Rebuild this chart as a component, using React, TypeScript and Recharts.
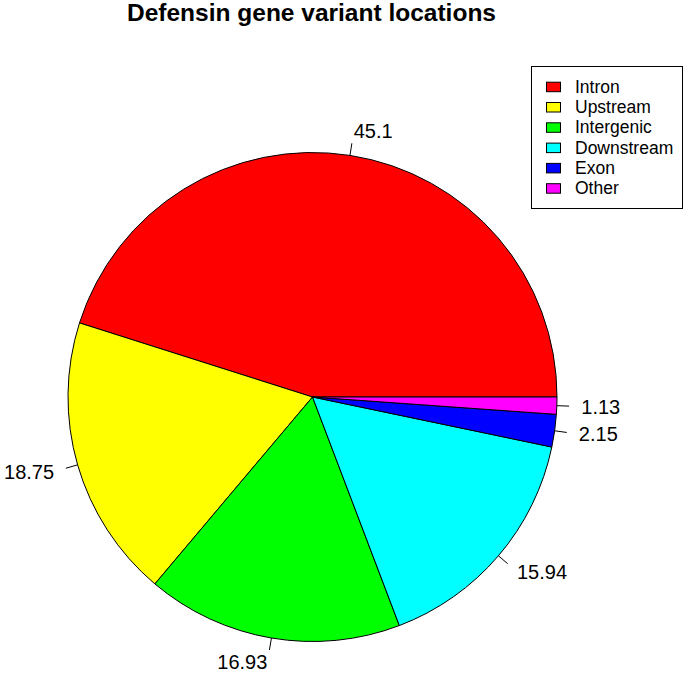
import React from 'react';
import { PieChart, Pie, Cell, Legend } from 'recharts';

const categories = ['Intron', 'Upstream', 'Intergenic', 'Downstream', 'Exon', 'Other'];
const percents = [45.1, 18.75, 16.93, 15.94, 2.15, 1.13];
const colors = ['#FF0000', '#FFFF00', '#00FF00', '#00FFFF', '#0000FF', '#FF00FF'];

const data = categories.map((name, i) => ({ name, value: percents[i] }));

const FONT = '"Liberation Sans", Arial, Helvetica, sans-serif';
const RAD = Math.PI / 180;

// R-style pie labels: short tick from r to 1.05r, text at 1.1r
const renderLabel = (props: any) => {
  const { cx, cy, midAngle, outerRadius, value } = props;
  const cos = Math.cos(-midAngle * RAD);
  const sin = Math.sin(-midAngle * RAD);
  const x1 = cx + outerRadius * cos;
  const y1 = cy + outerRadius * sin;
  const x2 = cx + outerRadius * 1.05 * cos;
  const y2 = cy + outerRadius * 1.05 * sin;
  const tx = cx + outerRadius * 1.1 * cos;
  const ty = cy + outerRadius * 1.1 * sin;
  return (
    <g>
      <line x1={x1} y1={y1} x2={x2} y2={y2} stroke="#000" strokeWidth={1} />
      <text
        x={tx}
        y={ty}
        textAnchor={cos > 0 ? 'start' : 'end'}
        dominantBaseline="central"
        fontFamily={FONT}
        fontSize={20}
        fill="#000"
      >
        {value}
      </text>
    </g>
  );
};

const renderLegend = () => (
  <svg width={152} height={143} style={{ display: 'block' }}>
    <rect x={0.5} y={0.5} width={151} height={142} fill="#fff" stroke="#000" strokeWidth={1} />
    {categories.map((name, i) => {
      const y = 20.7 + i * 20.3;
      return (
        <g key={name}>
          <rect x={15.5} y={y - 4.5} width={14} height={9.5} fill={colors[i]} stroke="#000" strokeWidth={1} />
          <text x={44} y={y} dominantBaseline="central" fontFamily={FONT} fontSize={17.5} fill="#000">
            {name}
          </text>
        </g>
      );
    })}
  </svg>
);

export default function App() {
  return (
    <div style={{ position: 'absolute', left: 0, top: 0, width: 685, height: 673, background: '#fff' }}>
      <svg width={685} height={40} style={{ position: 'absolute', left: 0, top: 0 }}>
        <text x={311.5} y={21} textAnchor="middle" fontFamily={FONT} fontWeight="bold" fontSize={24.5} fill="#000">
          Defensin gene variant locations
        </text>
      </svg>
      <PieChart width={685} height={673} margin={{ top: 0, right: 0, bottom: 0, left: 0 }}>
        <Pie
          data={data}
          dataKey="value"
          nameKey="name"
          cx={312.5}
          cy={397}
          outerRadius={244.5}
          startAngle={0}
          endAngle={360}
          stroke="#000"
          strokeWidth={1}
          label={renderLabel}
          labelLine={false}
          isAnimationActive={false}
        >
          {data.map((d, i) => (
            <Cell key={d.name} fill={colors[i]} />
          ))}
        </Pie>
        <Legend
          content={renderLegend}
          wrapperStyle={{ position: 'absolute', left: 531, top: 66, width: 152, height: 143 }}
        />
      </PieChart>
    </div>
  );
}
